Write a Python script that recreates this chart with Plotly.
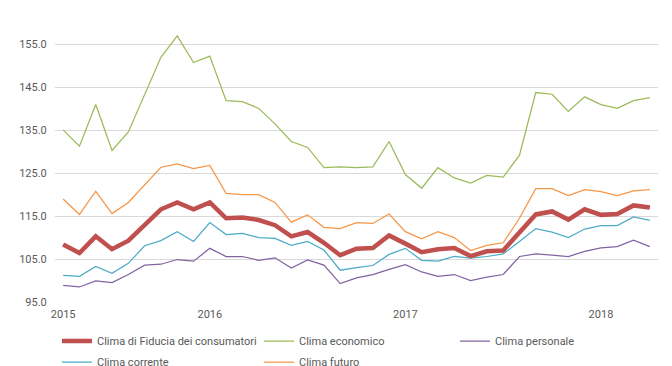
import plotly.graph_objects as go

FONT = "Roboto, Liberation Sans, sans-serif"
FS = 11

months = [
    "2015-04", "2015-05", "2015-06", "2015-07", "2015-08", "2015-09", "2015-10", "2015-11", "2015-12",
    "2016-01", "2016-02", "2016-03", "2016-04", "2016-05", "2016-06", "2016-07", "2016-08", "2016-09",
    "2016-10", "2016-11", "2016-12",
    "2017-01", "2017-02", "2017-03", "2017-04", "2017-05", "2017-06", "2017-07", "2017-08", "2017-09",
    "2017-10", "2017-11", "2017-12",
    "2018-01", "2018-02", "2018-03", "2018-04",
]

tick_months = ["2015-04", "2016-01", "2017-01", "2018-01"]
tick_labels = ["2015", "2016", "2017", "2018"]

clima_fiducia = [108.4, 106.4, 110.3, 107.3, 109.3, 113.0, 116.6, 118.2, 116.6, 118.2, 114.5, 114.7,
                 114.1, 112.9, 110.3, 111.3, 108.8, 105.9, 107.4, 107.6, 110.5, 108.6, 106.6, 107.3,
                 107.6, 105.7, 106.8, 107.0, 111.1, 115.4, 116.1, 114.2, 116.6, 115.3, 115.5, 117.5, 117.0]

clima_economico = [135.1, 131.3, 141.0, 130.3, 134.6, 143.5, 152.0, 157.0, 150.8, 152.3, 141.9, 141.7,
                   140.1, 136.5, 132.4, 131.0, 126.3, 126.5, 126.3, 126.5, 132.4, 124.7, 121.5, 126.3,
                   123.9, 122.7, 124.5, 124.1, 129.2, 143.8, 143.4, 139.4, 142.8, 141.0, 140.1, 141.9, 142.6]

clima_personale = [98.9, 98.5, 99.9, 99.5, 101.4, 103.6, 103.8, 104.9, 104.5, 107.5, 105.6, 105.6,
                   104.7, 105.3, 102.9, 104.8, 103.6, 99.3, 100.6, 101.4, 102.6, 103.7, 102.0, 101.0,
                   101.4, 100.0, 100.8, 101.4, 105.6, 106.2, 105.9, 105.6, 106.8, 107.6, 107.9, 109.4, 107.9]

clima_corrente = [101.2, 101.0, 103.3, 101.7, 104.0, 108.1, 109.3, 111.4, 109.1, 113.5, 110.7, 111.0,
                  110.0, 109.8, 108.2, 109.1, 107.1, 102.4, 103.0, 103.5, 106.1, 107.5, 104.7, 104.5,
                  105.6, 105.2, 105.6, 106.2, 109.1, 112.1, 111.3, 110.0, 112.0, 112.8, 112.8, 114.8, 114.0]

clima_futuro = [119.0, 115.4, 120.8, 115.6, 118.2, 122.2, 126.4, 127.2, 126.1, 126.8, 120.3, 120.0,
                120.0, 118.2, 113.6, 115.3, 112.4, 112.1, 113.5, 113.3, 115.5, 111.4, 109.7, 111.4,
                110.0, 107.0, 108.2, 108.8, 114.5, 121.4, 121.4, 119.8, 121.2, 120.7, 119.8, 120.9, 121.2]

y_ticks = [95, 105, 115, 125, 135, 145, 155]

# name, values, color, line width, legend id, legend position (px from left, px from top)
series = [
    ("Clima economico", clima_economico, "#9BBB59", 1.25, "legend2", (251, 333)),
    ("Clima personale", clima_personale, "#8064A2", 1.25, "legend3", (447, 333)),
    ("Clima corrente", clima_corrente, "#4BACC6", 1.25, "legend4", (49, 354)),
    ("Clima futuro", clima_futuro, "#F79646", 1.25, "legend5", (251, 354)),
    ("Clima di Fiducia dei consumatori", clima_fiducia, "#C0504D", 4.5, "legend", (49, 333)),
]

fig = go.Figure()
legends = {}
for name, vals, color, width, leg, (lx, ly) in series:
    fig.add_trace(go.Scatter(
        x=months, y=vals, mode="lines", name=name,
        line=dict(color=color, width=width),
        legend=leg, hoverinfo="skip",
    ))
    legends[leg] = dict(
        orientation="h", xref="container", yref="container",
        x=lx / 672, y=1 - ly / 366, xanchor="left", yanchor="middle",
        font=dict(family=FONT, size=FS, color="#595959"),
        bgcolor="rgba(0,0,0,0)",
    )

fig.update_layout(
    width=672, height=366, showlegend=True,
    margin=dict(l=47, r=22, t=15, b=72, autoexpand=False),
    paper_bgcolor="white", plot_bgcolor="white",
    font=dict(family=FONT, size=FS, color="#595959"),
    xaxis=dict(
        type="category", range=[-0.5, 36.5],
        tickmode="array", tickvals=tick_months, ticktext=tick_labels,
        showgrid=False, zeroline=False, showline=False,
        ticks="outside", ticklen=2, tickcolor="rgba(0,0,0,0)",
        tickfont=dict(family=FONT, size=FS, color="#595959"),
    ),
    yaxis=dict(
        range=[95, 160], tickmode="array", tickvals=y_ticks, tickformat=".1f",
        showgrid=True, gridcolor="#D9D9D9", gridwidth=1,
        zeroline=False, showline=False,
        ticks="outside", ticklen=5, tickcolor="rgba(0,0,0,0)",
        tickfont=dict(family=FONT, size=FS, color="#595959"),
    ),
    **legends,
)

fig.write_html("out.html")
